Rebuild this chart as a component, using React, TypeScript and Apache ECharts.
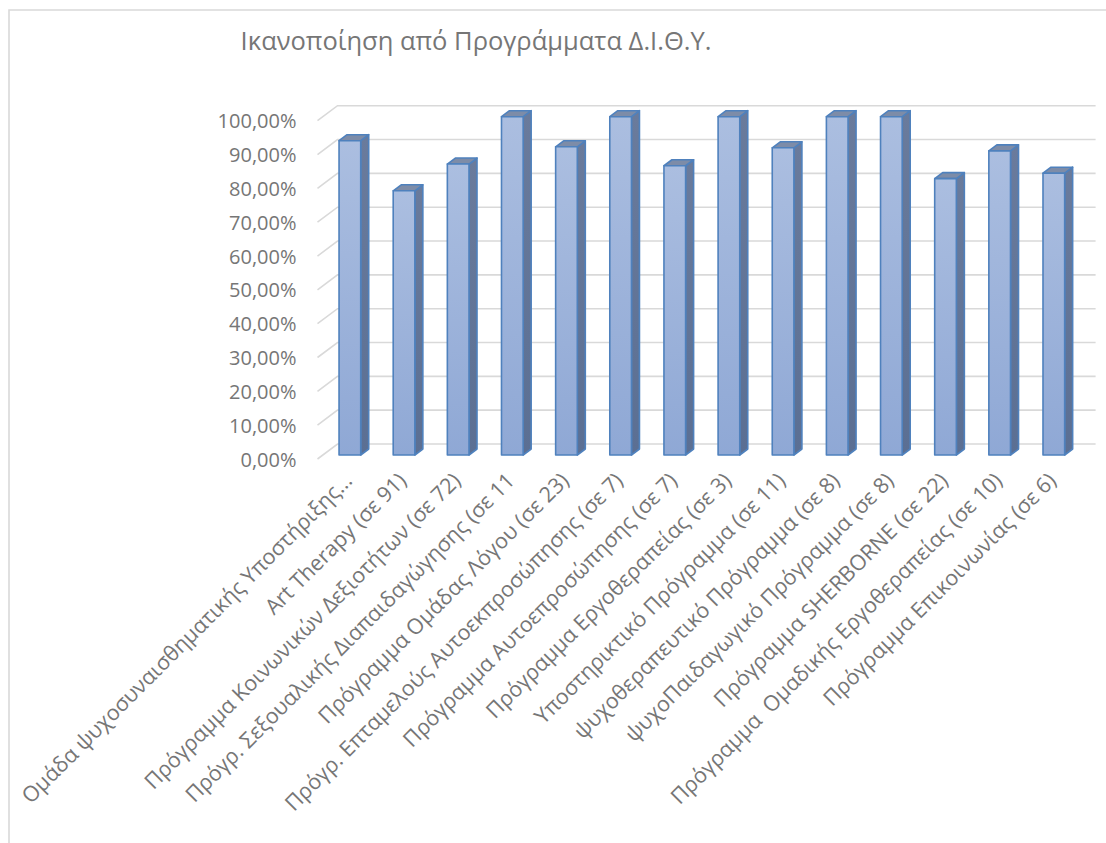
import React, { useEffect, useRef } from "react";
import * as echarts from "echarts";

const categories = [
  "Ομάδα ψυχοσυναισθηματικής Υποστήριξης...",
  "Art Therapy (σε 91)",
  "Πρόγραμμα Κοινωνικών Δεξιοτήτων (σε 72)",
  "Πρόγρ. Σεξουαλικής Διαπαιδαγώγησης (σε 11",
  "Πρόγραμμα Ομάδας Λόγου (σε 23)",
  "Πρόγρ. Επταμελούς Αυτοεκπροσώπησης (σε 7)",
  "Πρόγραμμα Αυτοεπροσώπησης (σε 7)",
  "Πρόγραμμα Εργοθεραπείας (σε 3)",
  "Υποστηρικτικό Πρόγραμμα (σε 11)",
  "ψυχοθεραπευτικό Πρόγραμμα (σε 8)",
  "ψυχοΠαιδαγωγικό Πρόγραμμα (σε 8)",
  "Πρόγραμμα SHERBORNE (σε 22)",
  "Πρόγραμμα  Ομαδικής Εργοθεραπείας (σε 10)",
  "Πρόγραμμα Επικοινωνίας (σε 6)",
];

const values = [0.929, 0.781, 0.86, 1.0, 0.911, 1.0, 0.855, 1.0, 0.908, 1.0, 1.0, 0.817, 0.899, 0.833];

const yTicks = [0, 0.1, 0.2, 0.3, 0.4, 0.5, 0.6, 0.7, 0.8, 0.9, 1.0];

const TITLE = "Ικανοποίηση από Προγράμματα Δ.Ι.Θ.Υ.";
const FONT = "Open Sans";
const TEXT_COLOR = "#767676";
const GRID_COLOR = "#d9d9d9";
const EDGE = "#4f81bd";

export default function App() {
  const ref = useRef<HTMLDivElement>(null);

  useEffect(() => {
    document.body.style.margin = "0";
    if (!ref.current) return;
    const chart = echarts.init(ref.current, undefined, { renderer: "svg" });

    const depthX = 20;
    const depthY = -15;

    const renderGrid = (params: any, api: any) => {
      const v = api.value(1);
      const cs = params.coordSys;
      const y = api.coord([0, v])[1];
      return {
        type: "polyline",
        shape: {
          points: [
            [cs.x, y],
            [cs.x + depthX, y + depthY],
            [cs.x + cs.width + depthX, y + depthY],
          ],
        },
        style: { stroke: GRID_COLOR, lineWidth: 1.6, fill: "none" },
        silent: true,
      };
    };

    const frontFill = new echarts.graphic.LinearGradient(0, 0, 0, 1, [
      { offset: 0, color: "#abbee0" },
      { offset: 1, color: "#8fa8d5" },
    ]);
    const sideFill = new echarts.graphic.LinearGradient(0, 0, 0, 1, [
      { offset: 0, color: "#6a7b9c" },
      { offset: 1, color: "#5b6f93" },
    ]);

    const renderBar = (params: any, api: any) => {
      const i = api.value(0);
      const v = api.value(1);
      const b = api.coord([i, 0]);
      const t = api.coord([i, v]);
      const bw = api.size([1, 0])[0];
      const fw = bw * 0.4;
      const fx = 5.3;
      const fy = -4;
      const sx = 8;
      const sy = -6;
      const L = b[0] - fw / 2 + fx;
      const R = b[0] + fw / 2 + fx;
      const yb = b[1] + fy;
      const yt = t[1] + fy;
      const st = { stroke: EDGE, lineWidth: 1.6, lineJoin: "round" };
      return {
        type: "group",
        children: [
          {
            type: "polygon",
            shape: { points: [[R, yt], [R + sx, yt + sy], [R + sx, yb + sy], [R, yb]] },
            style: { fill: sideFill, ...st },
          },
          {
            type: "polygon",
            shape: { points: [[L, yt], [L + sx, yt + sy], [R + sx, yt + sy], [R, yt]] },
            style: { fill: "#7d8ca8", ...st },
          },
          {
            type: "rect",
            shape: { x: L, y: yt, width: R - L, height: yb - yt },
            style: { fill: frontFill, ...st },
          },
        ],
      };
    };

    const gridLeft = 317.5;
    const gridRight = 30.4;
    const gridTop = 120.7;
    const gridBottom = 843 - 459;
    const labelShift = 3;

    chart.setOption({
      animation: false,
      title: {
        text: TITLE,
        left: 471,
        top: 22,
        textAlign: "center",
        textStyle: { fontFamily: FONT, fontSize: 25.5, fontWeight: "normal", color: TEXT_COLOR },
      },
      graphic: [
        {
          type: "rect",
          shape: { x: 9, y: 10, width: 1400, height: 1200 },
          style: { fill: "none", stroke: GRID_COLOR, lineWidth: 1.6 },
          silent: true,
          z: -10,
        },
      ],
      grid: [
        { left: gridLeft, right: gridRight, top: gridTop, bottom: gridBottom },
        { left: gridLeft + labelShift, right: gridRight - labelShift, top: gridTop, bottom: gridBottom },
      ],
      xAxis: [
        {
          type: "category",
          gridIndex: 0,
          data: categories,
          axisLine: { show: false },
          axisTick: { show: false },
          axisLabel: { show: false },
          splitLine: { show: false },
        },
        {
          type: "category",
          gridIndex: 1,
          data: categories,
          axisLine: { show: false },
          axisTick: { show: false },
          splitLine: { show: false },
          axisLabel: {
            interval: 0,
            rotate: 45,
            margin: 17,
            fontFamily: FONT,
            fontSize: 21.5,
            color: TEXT_COLOR,
          },
        },
      ],
      yAxis: [
        {
          type: "value",
          gridIndex: 0,
          min: 0,
          max: 1,
          interval: 0.1,
          axisLine: { show: false },
          axisTick: { show: false },
          splitLine: { show: false },
          axisLabel: {
            margin: 21,
            fontFamily: FONT,
            fontSize: 20,
            color: TEXT_COLOR,
            formatter: (v: number) => (v * 100).toFixed(2).replace(".", ",") + "%",
          },
        },
        {
          type: "value",
          gridIndex: 1,
          min: 0,
          max: 1,
          show: false,
        },
      ],
      series: [
        {
          type: "custom",
          name: "grid",
          xAxisIndex: 0,
          yAxisIndex: 0,
          renderItem: renderGrid,
          data: yTicks.map((v) => [0, v]),
          clip: false,
          z: 1,
          silent: true,
        },
        {
          type: "custom",
          name: "Ικανοποίηση",
          xAxisIndex: 0,
          yAxisIndex: 0,
          renderItem: renderBar,
          data: values.map((v, i) => [i, v]),
          clip: false,
          z: 2,
        },
      ],
    });

    return () => chart.dispose();
  }, []);

  return <div ref={ref} style={{ width: 1106, height: 843 }} />;
}
